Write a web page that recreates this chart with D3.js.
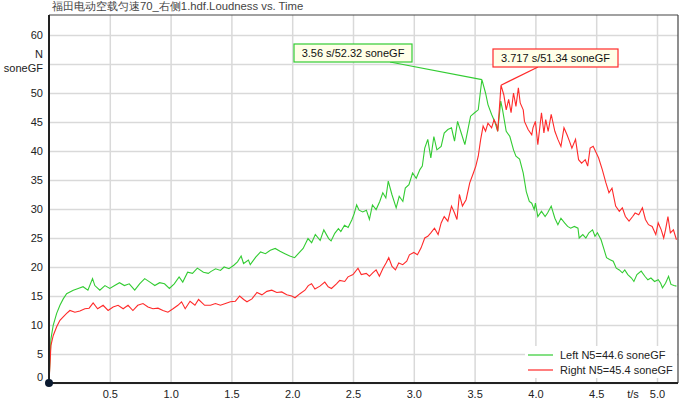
<!DOCTYPE html>
<html lang="zh">
<head>
<meta charset="UTF-8">
<title>Loudness vs. Time</title>
<script src="https://cdnjs.cloudflare.com/ajax/libs/d3/7.8.5/d3.min.js"></script>
<style>
    body { margin: 0; background: #fff; }
    svg { display: block; font-family: "Liberation Sans", Arial, sans-serif; }
    .grid line { stroke: #d9d9d9; stroke-width: 1.5; }
    .grid path { display: none; }
    .grid text { fill: #222; font-size: 11px; }
</style>
</head>
<body>
<svg id="chart" width="680" height="407"></svg>
<script>
    // Left channel (green), time in s / loudness in soneGF
    const tLeft = [0, 0.016, 0.035, 0.063, 0.09, 0.117, 0.145, 0.172, 0.2, 0.24, 0.28, 0.32, 0.358, 0.377, 0.418, 0.46, 0.5, 0.54, 0.58, 0.62,
        0.66, 0.705, 0.745, 0.787, 0.83, 0.87, 0.91, 0.95, 0.99, 1.03, 1.07, 1.1, 1.14, 1.18, 1.22, 1.27, 1.31, 1.33, 1.37, 1.41,
        1.44, 1.48, 1.52, 1.55, 1.58, 1.6, 1.64, 1.655, 1.7, 1.74, 1.78, 1.82, 1.86, 1.9, 1.94, 1.98, 2.02, 2.05, 2.09, 2.13,
        2.16, 2.19, 2.23, 2.26, 2.3, 2.32, 2.35, 2.38, 2.4, 2.43, 2.46, 2.49, 2.51, 2.53, 2.55, 2.58, 2.61, 2.635, 2.66, 2.69,
        2.72, 2.745, 2.77, 2.79, 2.82, 2.855, 2.88, 2.91, 2.93, 2.96, 2.99, 3.02, 3.05, 3.07, 3.09, 3.115, 3.14, 3.165, 3.19, 3.225,
        3.25, 3.28, 3.31, 3.335, 3.36, 3.39, 3.42, 3.445, 3.467, 3.5, 3.53, 3.55, 3.56, 3.59, 3.61, 3.64, 3.665, 3.69, 3.715, 3.73,
        3.76, 3.79, 3.82, 3.84, 3.87, 3.9, 3.925, 3.95, 3.97, 3.99, 4.0, 4.02, 4.05, 4.08, 4.1, 4.13, 4.16, 4.185, 4.21, 4.24,
        4.265, 4.29, 4.32, 4.35, 4.36, 4.39, 4.415, 4.44, 4.47, 4.49, 4.51, 4.54, 4.565, 4.585, 4.61, 4.64, 4.665, 4.69, 4.715, 4.735,
        4.76, 4.79, 4.81, 4.835, 4.87, 4.9, 4.925, 4.95, 4.98, 5.01, 5.03, 5.045, 5.07, 5.095, 5.115, 5.14, 5.16];
    const vLeft = [0, 7.6, 10, 12, 13.4, 14.5, 15.4, 15.7, 16, 16.3, 16.6, 16, 18, 16.8, 16, 16.8, 16.3, 16.8, 17.3, 16.8,
        17.1, 16, 17.1, 18, 17.4, 16.8, 17.3, 17.1, 16.3, 17.1, 18.3, 17.4, 19.1, 18.9, 19.8, 19.1, 18.9, 19.2, 19.7, 19.4,
        20, 19.7, 20.3, 20.9, 21.9, 20.6, 21.2, 20.4, 21.7, 22.6, 22.3, 22.9, 23.2, 22.7, 22.3, 21.9, 21.6, 22.3, 23.2, 24.9,
        24.2, 25.6, 24.6, 26.4, 24.9, 24.5, 25.8, 26.6, 26.1, 27.2, 26.8, 28.1, 29.2, 30.7, 29.8, 29.5, 29.8, 28.2, 30.7, 29.9,
        31.3, 32.8, 31.9, 34.8, 32.5, 30.2, 32.2, 31.3, 33.6, 34.2, 36.2, 35.3, 36.8, 37.4, 40.5, 42, 38.8, 42.5, 40.2, 40.8,
        43.1, 43.7, 44, 41.7, 45.1, 43.1, 41.1, 43.7, 46, 46.6, 47.1, 50.6, 52.32, 50, 48, 46.3, 45.1, 43.4, 48.6, 47.1,
        43.4, 42.5, 40.2, 39.1, 38.6, 36.2, 33, 31.3, 31, 29.9, 31, 28.7, 29.6, 28.7, 29.3, 30.5, 28.4, 27.3, 28.4, 27.6,
        27, 26.7, 27, 26.7, 25, 25.6, 25, 25.9, 26.4, 25.3, 25.9, 24.7, 23, 21.6, 21.3, 21, 19.8, 19.5, 19, 19.5,
        18.7, 18.1, 17.5, 18.7, 19.3, 18.4, 17.8, 18.1, 17.5, 17.8, 17.2, 16.4, 17.2, 18.4, 17, 16.8, 16.7];

    // Right channel (red)
    const tRight = [0, 0.016, 0.035, 0.063, 0.09, 0.117, 0.145, 0.172, 0.213, 0.254, 0.295, 0.33, 0.363, 0.4, 0.445, 0.486, 0.527, 0.568, 0.61, 0.65,
        0.69, 0.73, 0.773, 0.814, 0.855, 0.896, 0.937, 0.978, 1.02, 1.06, 1.09, 1.12, 1.16, 1.2, 1.23, 1.28, 1.328, 1.369, 1.41, 1.451,
        1.492, 1.533, 1.568, 1.601, 1.628, 1.669, 1.71, 1.751, 1.792, 1.832, 1.873, 1.914, 1.955, 1.996, 2.023, 2.064, 2.105, 2.132, 2.159, 2.187,
        2.228, 2.268, 2.296, 2.323, 2.364, 2.391, 2.432, 2.459, 2.5, 2.541, 2.568, 2.609, 2.635, 2.662, 2.69, 2.717, 2.745, 2.772, 2.794, 2.821,
        2.849, 2.876, 2.909, 2.942, 2.964, 3.0, 3.03, 3.06, 3.09, 3.115, 3.14, 3.17, 3.2, 3.225, 3.25, 3.28, 3.31, 3.335, 3.355, 3.375,
        3.4, 3.43, 3.46, 3.49, 3.51, 3.53, 3.55, 3.57, 3.59, 3.61, 3.64, 3.66, 3.68, 3.69, 3.705, 3.717, 3.74, 3.76, 3.78, 3.8,
        3.82, 3.84, 3.86, 3.875, 3.9, 3.91, 3.94, 3.97, 3.98, 4.0, 4.02, 4.05, 4.07, 4.085, 4.105, 4.13, 4.16, 4.185, 4.21, 4.235,
        4.26, 4.28, 4.3, 4.33, 4.355, 4.38, 4.41, 4.43, 4.45, 4.475, 4.5, 4.52, 4.55, 4.58, 4.605, 4.63, 4.66, 4.69, 4.715, 4.74,
        4.77, 4.8, 4.82, 4.85, 4.88, 4.905, 4.93, 4.96, 4.99, 5.01, 5.035, 5.055, 5.07, 5.09, 5.11, 5.135, 5.16];
    const vRight = [0, 6.5, 8.2, 9.7, 10.8, 11.4, 12, 12.5, 12.2, 12.4, 12.8, 12.9, 13.8, 12.8, 13.4, 12.5, 13.1, 13.4, 12.8, 13.4,
        12.5, 13.4, 13.7, 13.1, 12.8, 12.9, 12.5, 12.2, 12.8, 13.4, 14, 12.8, 14.1, 13.4, 14.4, 13.4, 13.4, 13.7, 13.4, 13.7,
        14, 14.1, 15, 14.4, 14, 14.5, 15.6, 15.2, 15.8, 16, 15.6, 15.7, 15.2, 15, 14.7, 15.4, 16, 16.8, 17.1, 16.2,
        16.7, 17.4, 16.6, 16.3, 17.1, 17.7, 17.5, 18.3, 18.7, 19.8, 18.7, 18.9, 18.4, 19, 19.5, 18.4, 19.7, 20.7, 21.6, 20.1,
        19.5, 20.7, 20.4, 21, 22.1, 22.5, 22.1, 23.3, 25, 25.3, 25.9, 26.7, 25.6, 27.6, 28.7, 27.9, 30.5, 29.3, 28.2, 32.5,
        30.5, 31.6, 34.5, 36.2, 37.4, 39.1, 42, 44.3, 43.4, 44.8, 44, 45.4, 44.5, 43.4, 47.7, 51.34, 49.7, 47.1, 48.9, 46.6,
        50, 47.7, 50.9, 48.3, 47.1, 45.1, 43.7, 42.8, 44, 45.1, 41.1, 46.6, 43.1, 45.4, 43.4, 46.3, 43.4, 42, 40.8, 44,
        42.8, 41.7, 40.5, 42, 38.5, 37.9, 38.5, 37.4, 40.5, 40.8, 39.7, 38.8, 36.8, 34.5, 32.8, 33.6, 30.5, 29.6, 30.2, 28.7,
        27.9, 28.7, 29.3, 29, 30.2, 28.2, 27.3, 27, 25.6, 27.6, 26.4, 25, 26.4, 28.7, 25.9, 26.4, 24.7];

    const xTicks = [0.5, 1.0, 1.5, 2.0, 2.5, 3.0, 3.5, 4.0, 4.5, 5.0];
    const yTicks = [0, 5, 10, 15, 20, 25, 30, 35, 40, 45, 50, 55, 60];
    const seriesNames = ["Left N5=44.6 soneGF", "Right N5=45.4 soneGF"];
    const peakLabels = ["3.56 s/52.32 soneGF", "3.717 s/51.34 soneGF"];
    const peaks = [[3.56, 52.32], [3.717, 51.34]];

    const green = "#33cc33", red = "#ff2a2a";

    const svg = d3.select("#chart");
    const pL = 49, pR = 678, pT = 15, pB = 383;

    const x = d3.scaleLinear().domain([0, (pR - pL) / 121.6]).range([pL, pR]);
    const y = d3.scaleLinear().domain([0, (pB - pT) / 5.8]).range([pB, pT]);

    svg.append("text")
        .attr("x", 52).attr("y", 10)
        .attr("font-size", 11.3).attr("fill", "#444")
        .text("福田电动空载匀速70_右侧1.hdf.Loudness vs. Time");

    // grid + tick labels
    svg.append("g").attr("class", "grid")
        .attr("transform", `translate(0,${pB})`)
        .call(d3.axisBottom(x).tickValues(xTicks).tickSize(-(pB - pT)).tickPadding(7).tickFormat(d3.format(".1f")));

    const gy = svg.append("g").attr("class", "grid")
        .attr("transform", `translate(${pL},0)`)
        .call(d3.axisLeft(y).tickValues(yTicks).tickSize(-(pR - pL)).tickPadding(6)
            .tickFormat(d => d === 55 ? "" : d));
    gy.selectAll(".tick").filter(d => d === 0).select("text").attr("dy", "-0.2em");

    svg.append("text").attr("x", 633).attr("y", pB + 7).attr("dy", "0.71em")
        .attr("text-anchor", "middle").attr("font-size", 11).attr("fill", "#222").text("t/s");

    svg.append("text").attr("x", 43).attr("y", 58).attr("text-anchor", "end")
        .attr("font-size", 11).attr("fill", "#222").text("N");
    svg.append("text").attr("x", 43).attr("y", 72).attr("text-anchor", "end")
        .attr("font-size", 11).attr("fill", "#222").text("soneGF");

    // frame
    svg.append("line").attr("x1", pL).attr("x2", pR).attr("y1", pT).attr("y2", pT)
        .attr("stroke", "#444").attr("stroke-width", 1.2);
    svg.append("line").attr("x1", pR).attr("x2", pR).attr("y1", pT).attr("y2", pB)
        .attr("stroke", "#444").attr("stroke-width", 1.2);

    const line = d3.line().x(d => x(d[0])).y(d => y(d[1]));

    svg.append("path").datum(d3.zip(tLeft, vLeft))
        .attr("d", line).attr("fill", "none").attr("stroke", green).attr("stroke-width", 1.1);
    svg.append("path").datum(d3.zip(tRight, vRight))
        .attr("d", line).attr("fill", "none").attr("stroke", red).attr("stroke-width", 1.1);

    svg.append("line").attr("x1", pL).attr("x2", pL).attr("y1", pT).attr("y2", pB)
        .attr("stroke", "#222").attr("stroke-width", 2);
    svg.append("line").attr("x1", pL).attr("x2", pR).attr("y1", pB).attr("y2", pB)
        .attr("stroke", "#222").attr("stroke-width", 2);
    svg.append("circle").attr("cx", x(0)).attr("cy", y(0)).attr("r", 4).attr("fill", "#0b1a30");

    // peak annotations
    const boxes = [{x: 294, y: 44, w: 118, h: 18, ax: 390}, {x: 493, y: 49, w: 125, h: 18, ax: 538}];
    const colors = [green, red];
    boxes.forEach((b, i) => {
        svg.append("line")
            .attr("x1", b.ax).attr("y1", b.y + b.h)
            .attr("x2", x(peaks[i][0])).attr("y2", y(peaks[i][1]))
            .attr("stroke", colors[i]).attr("stroke-width", 1.2);
        svg.append("rect").attr("x", b.x).attr("y", b.y).attr("width", b.w).attr("height", b.h)
            .attr("fill", "#ffffe8").attr("stroke", colors[i]).attr("stroke-width", 1.2);
        svg.append("text").attr("x", b.x + b.w / 2).attr("y", b.y + b.h / 2).attr("dy", "0.35em")
            .attr("text-anchor", "middle").attr("font-size", 11).attr("fill", "#111")
            .text(peakLabels[i]);
    });

    // legend
    const lg = svg.append("g");
    lg.append("rect").attr("x", 525).attr("y", 346).attr("width", pR - 526).attr("height", 32).attr("fill", "#fff");
    seriesNames.forEach((name, i) => {
        const ly = 355 + i * 15;
        lg.append("line").attr("x1", 528).attr("x2", 553).attr("y1", ly).attr("y2", ly)
            .attr("stroke", colors[i]).attr("stroke-width", 1.2);
        lg.append("text").attr("x", 560).attr("y", ly).attr("dy", "0.35em")
            .attr("font-size", 11).attr("fill", "#222").text(name);
    });
</script>
</body>
</html>
